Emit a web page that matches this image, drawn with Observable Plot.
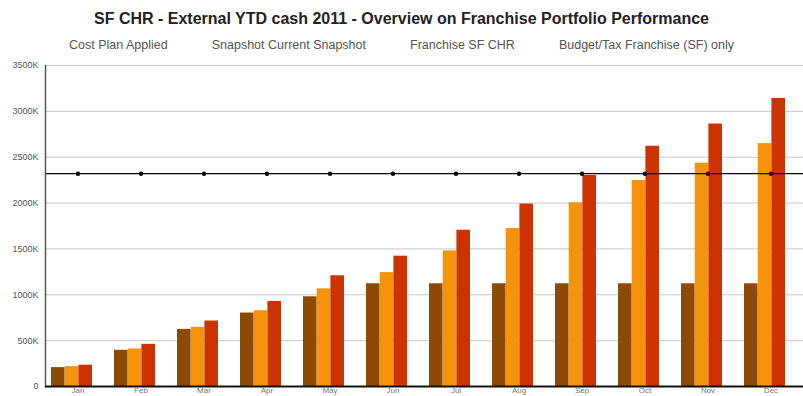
<!DOCTYPE html>
<html><head><meta charset="utf-8">
<script src="https://cdn.jsdelivr.net/npm/d3@7"></script>
<script src="https://cdn.jsdelivr.net/npm/@observablehq/plot@0.6"></script>
<style>
html,body{margin:0;padding:0;background:#fff;overflow:hidden;width:803px;height:396px;}
#title{font:bold 16px "Liberation Sans",Arial,sans-serif;color:#222;text-align:center;height:22px;line-height:22px;padding-top:8px;}
#legend{font:12.5px "Liberation Sans",Arial,sans-serif;color:#555;text-align:center;height:20px;line-height:20px;margin-top:5px;white-space:nowrap;}
#legend span{margin:0 22px;}
#chart{height:341px;}
</style></head><body>
<div id="title"></div>
<div id="legend"></div>
<div id="chart"></div>
<script>
const titleText = "SF CHR - External YTD cash 2011 - Overview on Franchise Portfolio Performance";
const seriesNames = ["Cost Plan Applied", "Snapshot Current Snapshot", "Franchise SF CHR", "Budget/Tax Franchise (SF) only"];
const months = ["Jan","Feb","Mar","Apr","May","Jun","Jul","Aug","Sep","Oct","Nov","Dec"];
const costPlan = [206, 395, 623, 801, 978, 1120, 1120, 1120, 1120, 1120, 1120, 1120];
const snapshot = [217, 410, 645, 826, 1065, 1242, 1478, 1722, 2003, 2246, 2435, 2649];
const franchise = [232, 460, 714, 927, 1207, 1421, 1704, 1989, 2301, 2620, 2862, 3141];
const budget = 2320;
const yTicks = [0, 500, 1000, 1500, 2000, 2500, 3000, 3500];
const yTickLabels = ["0", "500K", "1000K", "1500K", "2000K", "2500K", "3000K", "3500K"];
const colors = ["#8c4a06", "#f5940c", "#cc3300"];

document.getElementById("title").textContent = titleText;
document.getElementById("legend").innerHTML = seriesNames.map(s => `<span>${s}</span>`).join("");

const rows = months.map((m, i) => ({month: m, cost: costPlan[i], snap: snapshot[i], fr: franchise[i], budget}));

const W = 803, H = 341;
const bw = 13.7; // one bar width in px within a group band of ~41px

const chart = Plot.plot({
  width: W, height: H,
  marginLeft: 45, marginRight: 0, marginTop: 10, marginBottom: 10,
  style: {fontFamily: "Liberation Sans, Arial, sans-serif", fontSize: "10px", color: "#444", overflow: "visible"},
  x: {domain: months, paddingInner: 0.355, paddingOuter: 0.121, align: 0.26, label: null, axis: null},
  y: {domain: [0, 3500], label: null, axis: null},
  marks: [
    Plot.gridY(yTicks.slice(1), {stroke: "#c8c8c8", strokeOpacity: 1, strokeWidth: 1}),
    Plot.barY(rows, {x: "month", y: "cost", fill: colors[0], insetRight: 2 * bw}),
    Plot.barY(rows, {x: "month", y: "snap", fill: colors[1], insetLeft: bw, insetRight: bw}),
    Plot.barY(rows, {x: "month", y: "fr", fill: colors[2], insetLeft: 2 * bw}),
    Plot.ruleY([budget], {stroke: "#000", strokeWidth: 1.3}),
    Plot.dot(rows, {x: "month", y: "budget", dx: 6, r: 2.2, fill: "#000", stroke: "none"}),
    Plot.frame({anchor: "left", stroke: "#555", strokeWidth: 1.5}),
    Plot.ruleY([0], {stroke: "#111", strokeWidth: 2}),
    Plot.axisY(yTicks, {tickSize: 0, tickPadding: 7, tickFormat: (d, i) => yTickLabels[i], fill: "#555", fontSize: 9}),
    Plot.axisX(months, {tickSize: 0, tickPadding: 1, fill: "#777", fontSize: 8, dx: 6})
  ]
});
document.getElementById("chart").appendChild(chart);
</script>
</body></html>
